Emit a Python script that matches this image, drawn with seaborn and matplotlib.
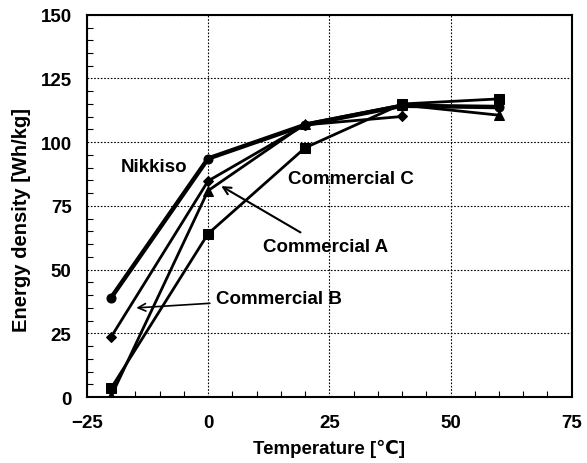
import matplotlib
matplotlib.use("Agg")
import matplotlib.pyplot as plt
from matplotlib.ticker import MultipleLocator
import seaborn as sns
import pandas as pd

# Discharge energy density vs temperature
temps = [-20, 0, 20, 40, 60]
nikkiso = [39, 93.6, 106.8, 114.3, 113.8]
commercial_a = [0.3, 81, 107.2, 114.6, 110.6]
commercial_b = [23.6, 84.8, 106.8, 110.1]
commercial_c = [3.5, 64.1, 97.8, 115, 117]

x_ticks = [-25, 0, 25, 50, 75]
y_ticks = [0, 25, 50, 75, 100, 125, 150]

sns.set_theme(style="white")
plt.rcParams["font.family"] = ["Liberation Sans", "DejaVu Sans"]
plt.rcParams.update({"text.color": "black", "axes.labelcolor": "black",
                     "xtick.color": "black", "ytick.color": "black"})

fig = plt.figure(figsize=(5.87, 4.64), dpi=100)
ax = fig.add_axes([0.148, 0.142, 0.826, 0.824])

series = [
    ("Nikkiso", temps, nikkiso, "o", 3.2, 6.5),
    ("Commercial A", temps, commercial_a, "^", 2.0, 6.5),
    ("Commercial B", temps[:len(commercial_b)], commercial_b, "D", 2.0, 5),
    ("Commercial C", temps, commercial_c, "s", 2.0, 6.5),
]
for name, xs, ys, mk, lw, ms in series:
    df = pd.DataFrame({"Temperature": xs, "Energy": ys})
    sns.lineplot(data=df, x="Temperature", y="Energy", ax=ax, color="black",
                 marker=mk, markersize=ms, linewidth=lw, markeredgecolor="black",
                 markerfacecolor="black", legend=False)

ax.set_xlim(-25, 75)
ax.set_ylim(0, 150)
ax.set_xticks(x_ticks)
ax.set_yticks(y_ticks)
ax.xaxis.set_minor_locator(MultipleLocator(5))
ax.yaxis.set_minor_locator(MultipleLocator(5))
ax.grid(True, which="major", color="black", linestyle=(0, (1.5, 1.5)), linewidth=0.8)
ax.tick_params(axis="both", which="major", direction="in", length=0, labelsize=13.5,
               labelcolor="black")
ax.tick_params(axis="x", which="major", pad=12)
ax.tick_params(axis="y", which="major", pad=11)
ax.tick_params(axis="both", which="minor", direction="in", length=4, width=0.8,
               color="black", bottom=True, left=True)
for lbl in ax.get_xticklabels() + ax.get_yticklabels():
    lbl.set_fontweight("bold")
for sp in ax.spines.values():
    sp.set_color("black")
    sp.set_linewidth(1.5)

ax.set_xlabel("Temperature [℃]", fontsize=13.5, fontweight="bold", labelpad=6,
              color="black")
ax.set_ylabel("Energy density [Wh/kg]", fontsize=14.5, fontweight="bold",
              color="black")
ax.yaxis.set_label_coords(-0.115, 0.466)

txt = dict(fontsize=13.5, fontweight="bold", color="black", va="center")
ax.text(-18.1, 90.3, "Nikkiso", ha="left", **txt)
ax.text(16.5, 85.6, "Commercial C", ha="left", **txt)
ax.annotate("Commercial A", xy=(2.7, 82.8), xytext=(11.3, 58.9),
            ha="left", arrowprops=dict(arrowstyle="->", color="black", lw=1.5,
                                       shrinkA=4, shrinkB=0), **txt)
ax.annotate("Commercial B", xy=(-14.8, 35), xytext=(1.6, 38.5),
            ha="left", arrowprops=dict(arrowstyle="->", color="black", lw=1.2,
                                       shrinkA=2, shrinkB=0), **txt)

fig.savefig("out.png", dpi=100)
